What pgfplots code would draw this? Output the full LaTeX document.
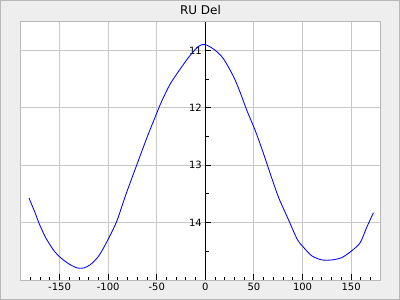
\documentclass[border=0pt]{standalone}
\usepackage{pgfplots}
\pgfplotsset{compat=1.18}
\usepackage{fontspec}
\setmainfont{DejaVu Sans}
\definecolor{bgc}{HTML}{EEEEEE}
\definecolor{gridc}{HTML}{C8C8C8}
\definecolor{framec}{HTML}{B8B8B8}
\begin{document}
\begin{tikzpicture}[x=1bp,y=1bp]
\fill[bgc] (0,0) rectangle (400,300);
\draw[framec, line width=1bp] (0.5,0.5) rectangle (399.5,299.5);
\begin{axis}[
  at={(20.7bp,20bp)}, anchor=south west,
  scale only axis, width=359.6bp, height=258.3bp,
  xmin=-190, xmax=180, ymin=10.5, ymax=15, y dir=reverse,
  axis x line=bottom, axis y line=center,
  x axis line style={draw=framec,-,line width=1bp},
  y axis line style={draw=black,-,line width=1bp},
  axis background/.style={fill=white},
  xtick={-150,-100,-50,0,50,100,150},
  minor xtick={-180,-170,...,170},
  ytick={11,12,13,14},
  minor ytick={10.5,11.5,12.5,13.5,14.5},
  grid=major,
  major grid style={draw=gridc, line width=1bp},
  tick align=inside,
  tick style={black, line width=1bp},
  major tick length=6bp, minor tick length=3.5bp,
  /pgf/number format/assume math mode=true,
  ticklabel style={font=\fontsize{10bp}{12bp}\selectfont},
  clip=false,
]
\draw[framec, line width=1bp] (rel axis cs:0,0) rectangle (rel axis cs:1,1);
\addplot[blue, line width=0.85bp, mark=none, smooth, tension=0.45] coordinates {
(-181.5,13.57) (-174.7,13.85) (-171.2,14.01) (-164.4,14.26) (-155.8,14.49)
(-149,14.61) (-140.4,14.72) (-131.8,14.79) (-125,14.79) (-118.2,14.73)
(-109.6,14.58) (-100,14.29) (-91,13.97) (-82.2,13.53) (-70.9,13.01)
(-59.9,12.51) (-49.0,12.05) (-44.5,11.87) (-36.0,11.58) (-25.7,11.32)
(-17.2,11.12) (-8.5,10.95) (-3.4,10.90) (1.7,10.91) (10.3,11.00)
(18.8,11.15) (29.1,11.46) (36.0,11.74) (42.8,12.05) (51.4,12.40)
(59.9,12.80) (66.8,13.15) (75.3,13.56) (85,13.93) (94.5,14.29)
(101,14.43) (109.6,14.58) (119.9,14.65) (130.2,14.65) (140.4,14.61)
(150.7,14.49) (159.3,14.35) (166.1,14.08) (172.9,13.83)
};
\end{axis}
\node[font=\fontsize{12bp}{14bp}\selectfont] at (200.5,289.7) {RU Del};
\end{tikzpicture}
\end{document}
